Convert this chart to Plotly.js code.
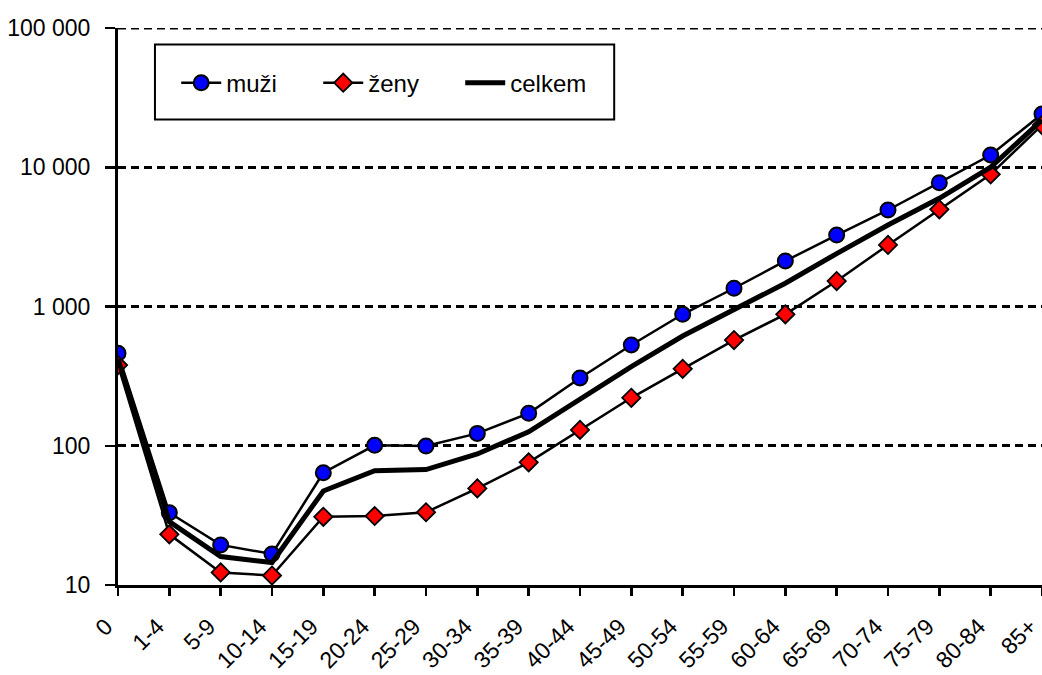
<!DOCTYPE html>
<html><head><meta charset="utf-8">
<script src="https://cdn.plot.ly/plotly-3.0.1.min.js"></script>
<style>body{margin:0;background:#fff}#c{width:1042px;height:675px}</style>
</head><body><div id="c"></div>
<script>
const categories = ["0","1-4","5-9","10-14","15-19","20-24","25-29","30-34","35-39","40-44","45-49","50-54","55-59","60-64","65-69","70-74","75-79","80-84","85+"];
const muzi   = [461, 33, 19.4, 16.7, 64, 100.7, 99.5, 122.7, 171, 307, 529, 879, 1352, 2123, 3258, 4933, 7745, 12250, 24100];
const zeny   = [380, 23.1, 12.3, 11.7, 30.9, 31.3, 33.3, 49.4, 76, 130, 221, 357, 574, 879, 1524, 2767, 4990, 8890, 20100];
const celkem = [420, 28.5, 16.0, 14.5, 47.3, 66.2, 67.5, 87.3, 126, 215, 370, 614, 944, 1470, 2400, 3846, 5984, 10000, 21800];
const yTickVals = [10, 100, 1000, 10000, 100000];
const yTickText = ["10", "100", "1 000", "10 000", "100 000"];

const fam = "'Liberation Sans', Arial, sans-serif";
const font = {family: fam, color: "#000"};
const traces = [
  {x: categories, y: muzi, name: "muži", type: "scatter", mode: "lines+markers",
   line: {color: "#000", width: 2.5},
   marker: {symbol: "circle", size: 15, color: "#0000ff", line: {color: "#000", width: 2}}},
  {x: categories, y: zeny, name: "ženy", type: "scatter", mode: "lines+markers",
   line: {color: "#000", width: 2.5},
   marker: {symbol: "diamond", size: 14, color: "#ff0000", line: {color: "#000", width: 1.8}}},
  {x: categories, y: celkem, name: "celkem", type: "scatter", mode: "lines",
   line: {color: "#000", width: 5}}
];
const layout = {
  width: 1042, height: 675,
  margin: {l: 118, r: 0, t: 28, b: 90},
  paper_bgcolor: "#fff", plot_bgcolor: "#fff",
  font: Object.assign({size: 23}, font),
  showlegend: true,
  legend: {orientation: "h", x: 0.063, y: 0.901, xanchor: "left", yanchor: "middle",
    borderwidth: 0, bgcolor: "rgba(0,0,0,0)",
    font: Object.assign({size: 24}, font), entrywidth: 87, itemwidth: 40},
  shapes: [
    {type: "rect", xref: "paper", yref: "paper", x0: 0.040, x1: 0.537, y0: 0.8357, y1: 0.9704,
     line: {color: "#000", width: 2}, fillcolor: "#fff", layer: "above"},
    {type: "line", xref: "paper", yref: "y", x0: 0, x1: 1, y0: yTickVals[yTickVals.length - 1], y1: yTickVals[yTickVals.length - 1],
     line: {color: "#000", width: 3, dash: "8px,5px"}, layer: "below"}
  ],
  xaxis: {type: "category", range: [0, 18], tickangle: -45,
    showline: true, linecolor: "#000", linewidth: 3, ticks: "outside", ticklen: 8, tickwidth: 2.5, tickcolor: "#000",
    ticklabelshift: -12, ticklabelstandoff: 8,
    showgrid: false, zeroline: false, tickfont: Object.assign({size: 23}, font)},
  yaxis: {type: "log", range: [1, 5], tickvals: yTickVals, ticktext: yTickText,
    showline: true, linecolor: "#000", linewidth: 3, ticks: "outside", ticklen: 10, tickwidth: 2.5, tickcolor: "#000",
    ticklabelstandoff: 10,
    showgrid: true, gridcolor: "#000", gridwidth: 3, griddash: "8px,5px", zeroline: false,
    tickfont: Object.assign({size: 23}, font)}
};
Plotly.newPlot("c", traces, layout, {staticPlot: true});
</script></body></html>
